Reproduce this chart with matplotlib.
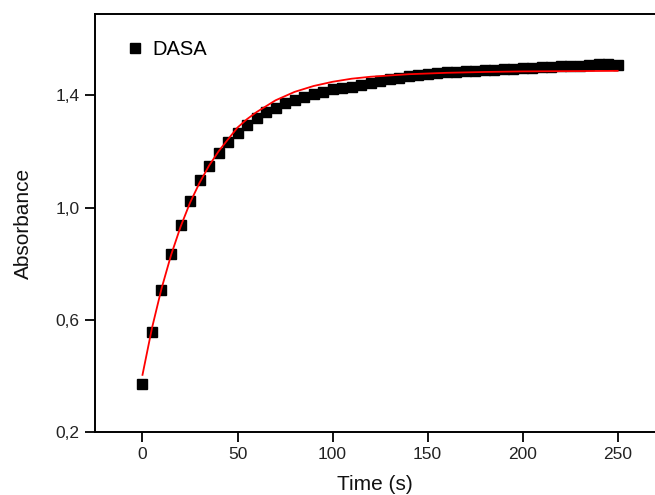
import matplotlib
matplotlib.use('Agg')
import matplotlib.pyplot as plt
from matplotlib.ticker import FuncFormatter

# Measured absorbance (squares), every 5 s
time_s = list(range(0, 255, 5))
absorbance = [0.370, 0.558, 0.707, 0.835, 0.937, 1.025, 1.098, 1.149, 1.195, 1.234,
              1.265, 1.294, 1.318, 1.340, 1.356, 1.371, 1.382, 1.395, 1.406, 1.413,
              1.421, 1.426, 1.431, 1.438, 1.445, 1.451, 1.457, 1.463, 1.467, 1.472,
              1.476, 1.480, 1.484, 1.482, 1.485, 1.488, 1.489, 1.490, 1.492, 1.494,
              1.496, 1.497, 1.499, 1.501, 1.503, 1.505, 1.506, 1.507, 1.510, 1.511,
              1.507]

# Red fit curve
fit_time = [0, 5, 10, 15, 20, 25, 30, 35, 40, 45, 50, 55, 60, 70, 80, 90, 100,
            110, 120, 140, 160, 180, 200, 225, 250]
fit_abs = [0.404, 0.571, 0.711, 0.830, 0.931, 1.017, 1.088, 1.149, 1.200, 1.243,
           1.285, 1.315, 1.340, 1.382, 1.412, 1.433, 1.448, 1.459, 1.466, 1.475,
           1.480, 1.483, 1.485, 1.486, 1.487]

y_ticks = [0.2, 0.6, 1.0, 1.4]
x_ticks = [0, 50, 100, 150, 200, 250]

plt.rcParams['font.family'] = ['Liberation Sans', 'DejaVu Sans']

fig = plt.figure(figsize=(6.55, 4.95), dpi=100)
ax = fig.add_axes([0.145, 0.127, 0.856, 0.845])

ax.plot(fit_time, fit_abs, color='#ff0000', lw=1.3, zorder=3)
ax.plot(time_s, absorbance, ls='none', marker='s', ms=7, color='black',
        label='DASA', zorder=2)

ax.set_xlim(-25, 270)
ax.set_ylim(0.2, 1.69)
ax.set_xticks(x_ticks)
ax.set_yticks(y_ticks)
ax.yaxis.set_major_formatter(FuncFormatter(lambda v, p: ('%.1f' % v).replace('.', ',')))
ax.tick_params(direction='out', length=7, width=1.3, labelsize=12.5, pad=4,
               labelcolor='#222222')

for s in ['left', 'bottom', 'top']:
    ax.spines[s].set_linewidth(1.4)
ax.spines['right'].set_visible(False)

ax.set_xlabel('Time (s)', fontsize=15, labelpad=9, color='#111111')
ax.set_ylabel('Absorbance', fontsize=15, labelpad=16.5, color='#111111')

ax.legend(loc='upper left', frameon=False, fontsize=14.5, handlelength=0.7,
          handletextpad=0.5, bbox_to_anchor=(0.009, 1.004), borderaxespad=1.0,
          markerscale=0.95)

fig.savefig('out.png', dpi=100)
